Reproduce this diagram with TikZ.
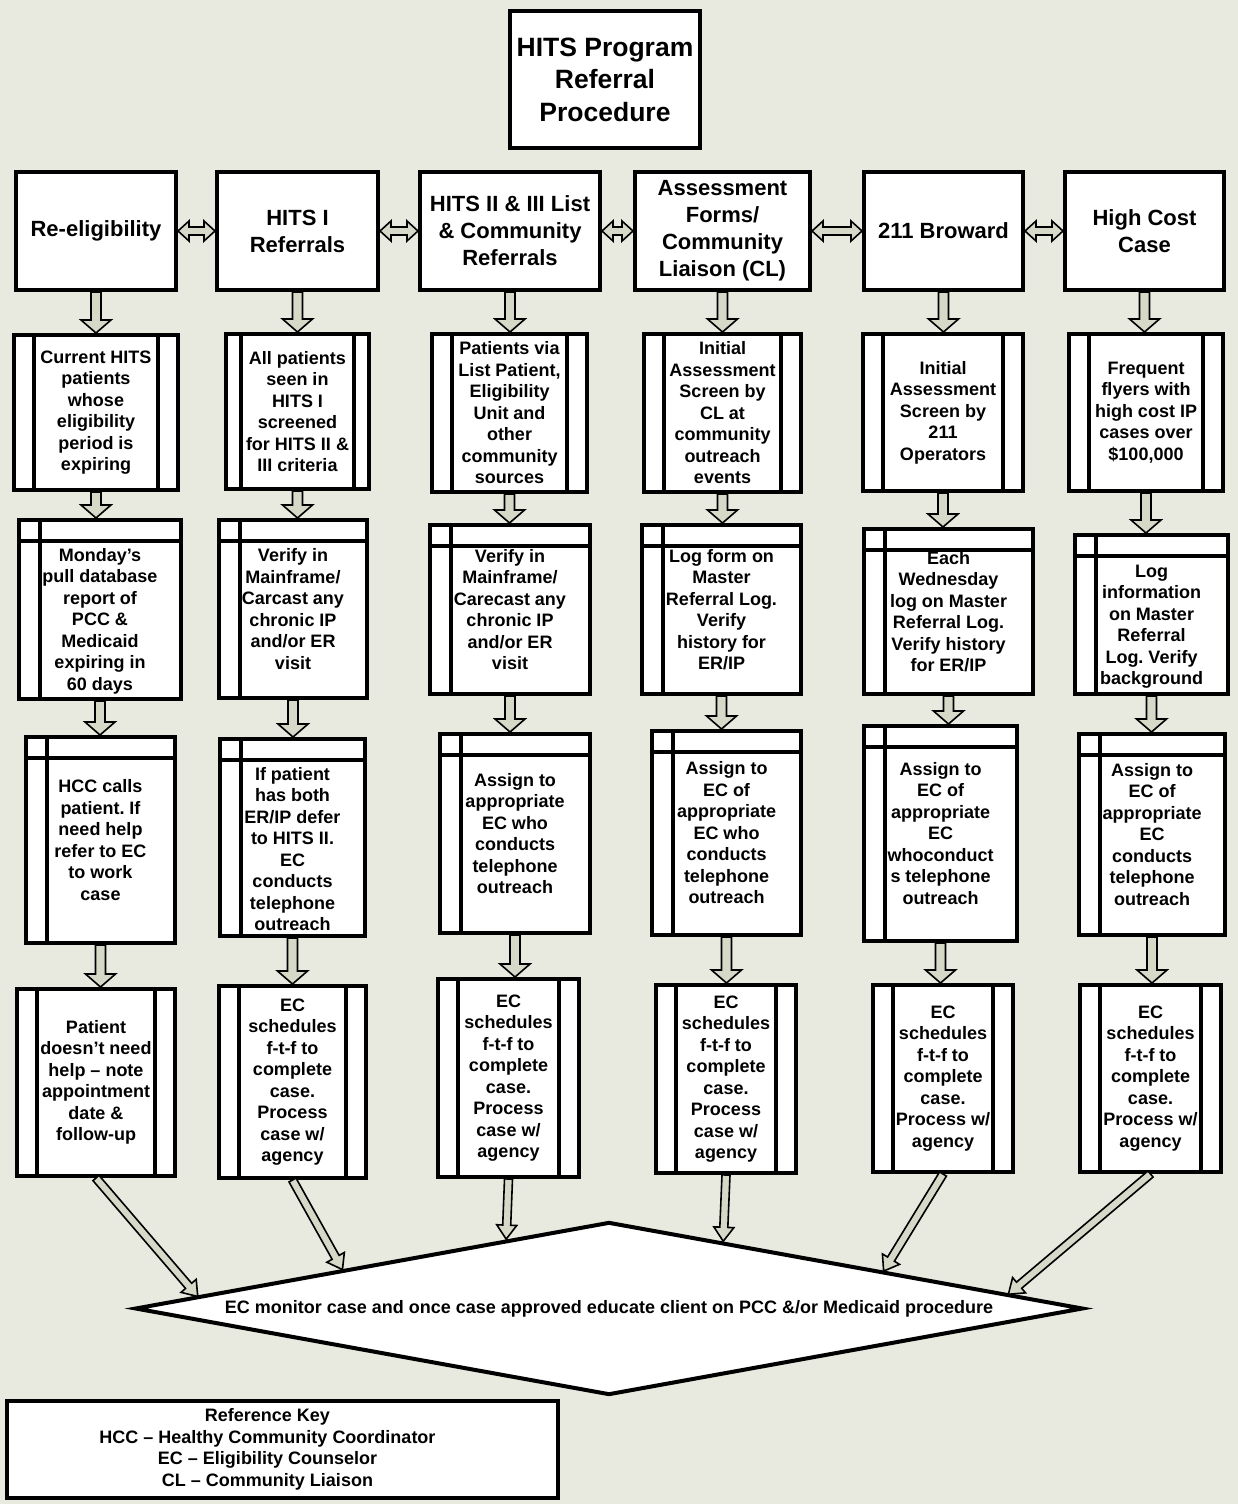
\documentclass[tikz,border=0pt]{standalone}
\usepackage{fontspec}
\setmainfont{Liberation Sans}
\usetikzlibrary{shapes.geometric,calc}

\definecolor{bgcol}{RGB}{232,233,223}
\definecolor{arrowfill}{RGB}{214,217,200}

\tikzset{
  box/.style={draw, line width=4pt, fill=white, align=center, inner sep=1pt},
  titlebox/.style={box, font=\fontsize{26.5}{32.5}\selectfont\bfseries},
  hdr/.style={box, minimum height=118, font=\fontsize{22}{27}\selectfont\bfseries},
  txt/.style={font=\fontsize{18}{21.5}\selectfont\bfseries},
  barw/.store in=\procbar, barw=20pt,
  proc/.style={box, txt, path picture={
      \draw[line width=3.5pt] ([xshift=\procbar]path picture bounding box.north west)
        -- ([xshift=\procbar]path picture bounding box.south west);
      \draw[line width=3.5pt] ([xshift=-\procbar]path picture bounding box.north east)
        -- ([xshift=-\procbar]path picture bounding box.south east);}},
  store/.style={box, txt, path picture={
      \draw[line width=3.5pt] ([xshift=21pt]path picture bounding box.north west)
        -- ([xshift=21pt]path picture bounding box.south west);
      \draw[line width=3.5pt] ([yshift=-21pt]path picture bounding box.north west)
        -- ([yshift=-21pt]path picture bounding box.north east);}},
  mon/.style={diamond, draw, line width=4pt, fill=white, aspect=5.4, inner sep=0pt,
    minimum width=948, minimum height=173, font=\fontsize{18}{21}\selectfont\bfseries},
  keybox/.style={draw, line width=4pt, fill=white, inner sep=1pt,
    font=\fontsize{18}{21.5}\selectfont\bfseries},
  flow/.style={draw=black, line width=1.6pt, fill=arrowfill, line join=miter}
}

% block arrow: shaft half width, head half width, head length, from, to
\newcommand{\flowarrow}[5]{%
  \path #4 coordinate (fa-s) #5 coordinate (fa-e);
  \coordinate (fa-h) at ($(fa-e)!#3!(fa-s)$);
  \draw[flow] ($(fa-s)!#1!90:(fa-e)$) -- ($(fa-h)!#1!90:(fa-e)$) -- ($(fa-h)!#2!90:(fa-e)$)
    -- (fa-e) -- ($(fa-h)!#2!-90:(fa-e)$) -- ($(fa-h)!#1!-90:(fa-e)$)
    -- ($(fa-s)!#1!-90:(fa-e)$) -- cycle;}
\newcommand{\vflow}[2]{\flowarrow{5pt}{15pt}{13pt}{#1}{#2}}
\newcommand{\dflow}[2]{\flowarrow{4pt}{10pt}{14pt}{#1}{#2}}
% two-headed block arrow between the sources
\newcommand{\hflow}[2]{%
  \path #1 coordinate (fa-s) #2 coordinate (fa-e);
  \coordinate (fa-g) at ($(fa-s)!11pt!(fa-e)$);
  \coordinate (fa-h) at ($(fa-e)!11pt!(fa-s)$);
  \draw[flow] (fa-s) -- ($(fa-g)!10pt!90:(fa-e)$) -- ($(fa-g)!4pt!90:(fa-e)$)
    -- ($(fa-h)!4pt!90:(fa-e)$) -- ($(fa-h)!10pt!90:(fa-e)$) -- (fa-e)
    -- ($(fa-h)!10pt!-90:(fa-e)$) -- ($(fa-h)!4pt!-90:(fa-e)$)
    -- ($(fa-g)!4pt!-90:(fa-e)$) -- ($(fa-g)!10pt!-90:(fa-e)$) -- cycle;}

\begin{document}
\frenchspacing
\begin{tikzpicture}[x=1pt, y=-1pt]
  \path[use as bounding box, fill=bgcol] (0,0) rectangle (1238,1504);

  \node[titlebox, minimum width=190, minimum height=137] (ttl) at (605,79.5)
    {HITS Program\\Referral\\Procedure};

  % referral sources
  \node[hdr, minimum width=160] (h1) at (96,231) {Re-eligibility};
  \node[hdr, minimum width=161] (h2) at (297.5,231) {HITS I\\Referrals};
  \node[hdr, minimum width=180] (h3) at (510,231) {HITS II \& III List\\\& Community\\Referrals};
  \node[hdr, minimum width=175] (h4) at (722.5,231) {Assessment\\Forms/\\Community\\Liaison (CL)};
  \node[hdr, minimum width=159] (h5) at (943.5,231) {211 Broward};
  \node[hdr, minimum width=159] (h6) at (1144.5,231) {High Cost\\Case};

  % who is referred
  \node[proc, minimum width=164, minimum height=155] (p1) at (96,412.5)
    {Current HITS\\patients\\whose\\eligibility\\period is\\expiring};
  \node[proc, barw=15pt, minimum width=143, minimum height=155] (p2) at (297.5,411.5)
    {All patients\\seen in\\HITS I\\screened\\for HITS II \&\\III criteria};
  \node[proc, minimum width=155, minimum height=158] (p3) at (509.5,413)
    {Patients via\\List Patient,\\Eligibility\\Unit and\\other\\community\\sources};
  \node[proc, minimum width=157, minimum height=158] (p4) at (722.5,413)
    {Initial\\Assessment\\Screen by\\CL at\\community\\outreach\\events};
  \node[proc, minimum width=160, minimum height=157] (p5) at (943,412.5)
    {Initial\\Assessment\\Screen by\\211\\Operators};
  \node[proc, minimum width=154, minimum height=157] (p6) at (1146,412.5)
    {Frequent\\flyers with\\high cost IP\\cases over\\\$100,000};

  % checks
  \node[store, minimum width=162, minimum height=179] (s1) at (100,609.5)
    {\strut\\Monday’s\\pull database\\report of\\PCC \&\\Medicaid\\expiring in\\60 days};
  \node[store, minimum width=148, minimum height=178] (s2) at (293,609)
    {Verify in\\Mainframe/\\Carcast any\\chronic IP\\and/or ER\\visit};
  \node[store, minimum width=160, minimum height=169] (s3) at (510,609.5)
    {Verify in\\Mainframe/\\Carecast any\\chronic IP\\and/or ER\\visit};
  \node[store, minimum width=159, minimum height=169] (s4) at (721.5,609.5)
    {Log form on\\Master\\Referral Log.\\Verify\\history for\\ER/IP};
  \node[store, minimum width=169, minimum height=165] (s5) at (948.5,611.5)
    {Each\\Wednesday\\log on Master\\Referral Log.\\Verify history\\for ER/IP};
  \node[store, minimum width=153, minimum height=159] (s6) at (1151.5,614.5)
    {\strut\\Log\\information\\on Master\\Referral\\Log. Verify\\background};

  % assignment
  \node[store, minimum width=149, minimum height=206] (a1) at (100.5,840)
    {HCC calls\\patient. If\\need help\\refer to EC\\to work\\case};
  \node[store, minimum width=145, minimum height=197] (a2) at (292.5,837.5)
    {\strut\\If patient\\has both\\ER/IP defer\\to HITS II.\\EC\\conducts\\telephone\\outreach};
  \node[store, minimum width=150, minimum height=199] (a3) at (515,833.5)
    {Assign to\\appropriate\\EC who\\conducts\\telephone\\outreach};
  \node[store, minimum width=149, minimum height=204] (a4) at (726.5,833)
    {Assign to\\EC of\\appropriate\\EC who\\conducts\\telephone\\outreach};
  \node[store, minimum width=153, minimum height=215] (a5) at (940.5,833.5)
    {Assign to\\EC of\\appropriate\\EC\\whoconduct\\s telephone\\outreach};
  \node[store, minimum width=146, minimum height=201] (a6) at (1152,834.5)
    {Assign to\\EC of\\appropriate\\EC\\conducts\\telephone\\outreach};

  % follow-up
  \node[proc, minimum width=158, minimum height=187] (f1) at (96,1082.5)
    {Patient\\doesn’t need\\help -- note\\appointment\\date \&\\follow-up};
  \node[proc, minimum width=147, minimum height=192] (f2) at (292.5,1082)
    {EC\\schedules\\f-t-f to\\complete\\case.\\Process\\case w/\\agency};
  \node[proc, minimum width=141, minimum height=198] (f3) at (508.5,1078)
    {EC\\schedules\\f-t-f to\\complete\\case.\\Process\\case w/\\agency};
  \node[proc, minimum width=140, minimum height=188] (f4) at (726,1079)
    {EC\\schedules\\f-t-f to\\complete\\case.\\Process\\case w/\\agency};
  \node[proc, minimum width=140, minimum height=187] (f5) at (943,1078.5)
    {EC\\schedules\\f-t-f to\\complete\\case.\\Process w/\\agency};
  \node[proc, minimum width=141, minimum height=187] (f6) at (1150.5,1078.5)
    {EC\\schedules\\f-t-f to\\complete\\case.\\Process w/\\agency};

  \node[mon] (mon) at (609,1308.5)
    {EC monitor case and once case approved educate client on PCC \&/or Medicaid procedure};

  \node[keybox, minimum width=551, minimum height=97] (key) at (282.5,1449.5)
    {\begin{tabular}{@{}c@{}}Reference Key\\HCC -- Healthy Community Coordinator\\EC -- Eligibility Counselor\\CL -- Community Liaison\end{tabular}\hspace*{30pt}};

  % where the arrows meet the diamond
  \coordinate (e1) at ($(mon.west)!0.136!(mon.north)$);
  \coordinate (e2) at ($(mon.west)!0.44!(mon.north)$);
  \coordinate (e3) at ($(mon.west)!0.784!(mon.north)$);
  \coordinate (e4) at ($(mon.north)!0.24!(mon.east)$);
  \coordinate (e5) at ($(mon.north)!0.577!(mon.east)$);
  \coordinate (e6) at ($(mon.north)!0.839!(mon.east)$);

  \hflow{(h1.east)}{(h2.west)}
  \hflow{(h2.east)}{(h3.west)}
  \hflow{(h3.east)}{(h4.west)}
  \hflow{(h4.east)}{(h5.west)}
  \hflow{(h5.east)}{(h6.west)}

  \foreach \c in {1,...,6} {
    \vflow{(h\c.south)}{(h\c.south |- p\c.north)}
    \vflow{(p\c.south)}{(p\c.south |- s\c.north)}
    \vflow{(s\c.south)}{(s\c.south |- a\c.north)}
    \vflow{(a\c.south)}{(a\c.south |- f\c.north)}
    \dflow{(f\c.south)}{(e\c)}
  }
\end{tikzpicture}
\end{document}
